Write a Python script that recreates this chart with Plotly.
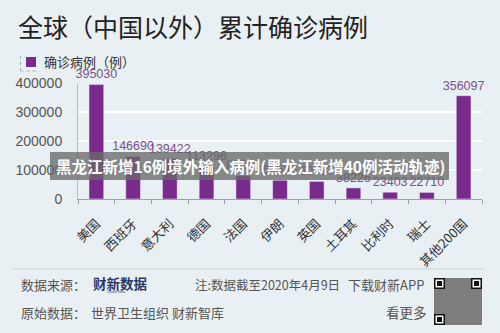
import plotly.graph_objects as go

countries = ["美国", "西班牙", "意大利", "德国", "法国", "伊朗", "英国", "土耳其", "比利时", "瑞士", "其他200国"]
cases = [395030, 146690, 139422, 113296, 81095, 64586, 60737, 38226, 23403, 22710, 356097]
y_ticks = [0, 100000, 200000, 300000, 400000]
series_name = "确诊病例（例）"
title_text = "全球（中国以外）累计确诊病例"
banner_text = "黑龙江新增16例境外输入病例(黑龙江新增40例活动轨迹)"

BG = "#e9f0f3"
PURPLE = "#7a2a8c"
FONT = "Liberation Sans, Noto Sans CJK SC, sans-serif"
CJK = "Noto Sans CJK SC, sans-serif"

W, H = 500, 333
L, R, T, B = 78, 18, 83, 134
PW, PH = W - L - R, H - T - B


def px(x):
    return (x - L) / PW


def py(y):
    return (H - B - y) / PH


fig = go.Figure(
    go.Bar(
        x=countries,
        y=cases,
        name=series_name,
        marker_color=PURPLE,
        text=[str(v) for v in cases],
        textposition="outside",
        constraintext="none",
        cliponaxis=False,
        textfont=dict(size=12.5, color="#7d4f8c", family=FONT),
        showlegend=False,
    )
)

fig.update_layout(
    width=W,
    height=H,
    margin=dict(l=L, r=R, t=T, b=B, autoexpand=False),
    paper_bgcolor=BG,
    plot_bgcolor=BG,
    bargap=0.6,
    font=dict(family=FONT, color="#444"),
    showlegend=False,
    title=dict(
        text=title_text,
        x=18 / W, xanchor="left", xref="container",
        y=1 - 28 / H, yanchor="middle", yref="container",
        font=dict(size=25, color="#222", family=CJK),
    ),
)

fig.update_xaxes(
    showline=True, linecolor="#9aa3a8", linewidth=1,
    ticks="outside", tickson="boundaries", ticklen=4, tickcolor="#9aa3a8",
    tickangle=-45, tickfont=dict(size=13, color="#333", family=CJK),
    ticklabelstandoff=11, showgrid=False, automargin=False,
)
fig.update_yaxes(
    range=[0, 400000], tickvals=y_ticks, ticktext=[str(v) for v in y_ticks],
    showline=True, linecolor="#b5bdc1", linewidth=1,
    showgrid=True, gridcolor="white", gridwidth=2,
    tickfont=dict(size=14, color="#555"), ticklabelstandoff=12, zeroline=False,
    automargin=False,
)

shapes = []
annotations = []

# legend (drawn)
shapes.append(dict(type="rect", xref="paper", yref="paper",
                   x0=px(26), x1=px(36), y0=py(67), y1=py(57),
                   fillcolor=PURPLE, line=dict(width=0)))
shapes.append(dict(type="line", xref="paper", yref="paper",
                   x0=px(20.5), x1=px(20.5), y0=py(56), y1=py(71),
                   line=dict(color="#a9b1b5", width=1, dash="dot")))
shapes.append(dict(type="line", xref="paper", yref="paper",
                   x0=px(20.5), x1=px(39), y0=py(71), y1=py(71),
                   line=dict(color="#a9b1b5", width=1, dash="dot")))
annotations.append(dict(xref="paper", yref="paper", x=px(42), y=py(62), text=series_name,
                        showarrow=False, xanchor="left", yanchor="middle",
                        font=dict(size=13, color="#333", family=CJK)))

# banner overlay
shapes.append(dict(type="rect", xref="paper", yref="paper",
                   x0=px(50), x1=px(449), y0=py(152), y1=py(180),
                   fillcolor="rgba(105,105,105,0.78)", line=dict(width=0), layer="above"))
annotations.append(dict(xref="paper", yref="paper", x=px(250), y=py(166),
                        text="<b>" + banner_text + "</b>", showarrow=False,
                        xanchor="center", yanchor="middle",
                        font=dict(size=15.5, color="white", family=CJK)))

# footer separator
shapes.append(dict(type="line", xref="paper", yref="paper",
                   x0=px(13), x1=px(485), y0=py(269), y1=py(269),
                   line=dict(color="#c9d1d5", width=1)))


def note(x, y, text, size=13, color="#555", anchor="left", family=CJK):
    annotations.append(dict(xref="paper", yref="paper", x=px(x), y=py(y), text=text,
                            showarrow=False, xanchor=anchor, yanchor="middle",
                            font=dict(size=size, color=color, family=family)))


note(19, 284, "数据来源：")
note(91, 283, "<b>财新数据</b>", size=13.5, color="#2b3768")
note(116, 292, "Caixin Data", size=3.5, color="#2b3768", anchor="center", family=FONT)
note(193, 284, "注:数据截至2020年4月9日", size=12.5)
note(346, 284, "下载财新APP", size=13)
note(19, 312, "原始数据：")
note(89, 312, "世界卫生组织 财新智库")
note(429, 312, "看更多", size=13.5, anchor="right")

# QR code (decorative)
qx0, qx1, qy0, qy1 = 434, 482, 278, 325
shapes.append(dict(type="rect", xref="paper", yref="paper", x0=px(qx0), x1=px(qx1),
                   y0=py(qy1), y1=py(qy0), fillcolor="#7d7d7d", line=dict(width=0)))
for fx, fy in [(qx0, qy0), (qx1 - 11, qy0), (qx0, qy1 - 11)]:
    shapes.append(dict(type="rect", xref="paper", yref="paper", x0=px(fx), x1=px(fx + 11),
                       y0=py(fy + 11), y1=py(fy), fillcolor="#111", line=dict(width=0)))
    shapes.append(dict(type="rect", xref="paper", yref="paper", x0=px(fx + 1.5), x1=px(fx + 9.5),
                       y0=py(fy + 9.5), y1=py(fy + 1.5), fillcolor="white", line=dict(width=0)))
    shapes.append(dict(type="rect", xref="paper", yref="paper", x0=px(fx + 3), x1=px(fx + 8),
                       y0=py(fy + 8), y1=py(fy + 3), fillcolor="#111", line=dict(width=0)))

fig.update_layout(shapes=shapes, annotations=annotations)
fig.write_html("out.html")
